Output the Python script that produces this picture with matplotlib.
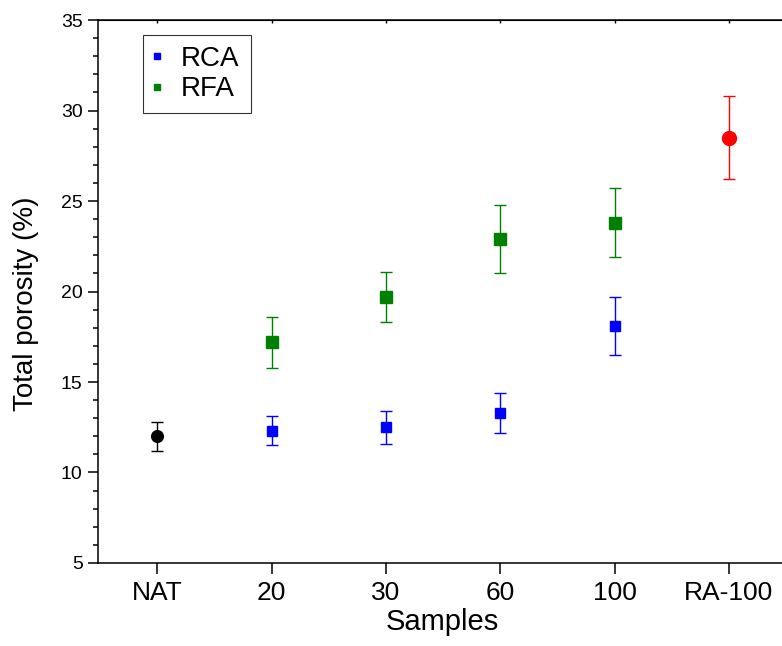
import numpy as np
import matplotlib
matplotlib.use("Agg")
import matplotlib.pyplot as plt
from matplotlib.ticker import MultipleLocator
from matplotlib.lines import Line2D

plt.rcParams["font.family"] = ["Liberation Sans", "DejaVu Sans"]

# categories along x
samples = ["NAT", "20", "30", "60", "100", "RA-100"]

# reference points
nat_pos, nat_val, nat_err = 0, 12.0, 0.8
ra_pos, ra_val, ra_err = 5, 28.5, 2.3

# RCA / RFA series at 20, 30, 60, 100
series_pos = [1, 2, 3, 4]
rca_val = [12.3, 12.5, 13.3, 18.1]
rca_err = [0.8, 0.9, 1.1, 1.6]
rfa_val = [17.2, 19.7, 22.9, 23.8]
rfa_err = [1.4, 1.4, 1.9, 1.9]

fig = plt.figure(figsize=(7.82, 6.46), dpi=100)
ax = fig.add_axes([0.1253, 0.1285, 0.8797, 0.8405])

eb = dict(linestyle="none", capsize=4.3, elinewidth=1.0, capthick=1.0)

ax.errorbar([nat_pos], [nat_val], yerr=[nat_err], marker="o", ms=8.4,
            color="black", **eb)
ax.errorbar(series_pos, rca_val, yerr=rca_err, marker="s", ms=7.6,
            color="#0000ff", **eb)
ax.errorbar(series_pos, rfa_val, yerr=rfa_err, marker="s", ms=8.4,
            color="#008000", **eb)
ax.errorbar([ra_pos], [ra_val], yerr=[ra_err], marker="o", ms=10,
            color="#ff0000", **eb)

ax.set_xlim(-0.52, 5.5)
ax.set_ylim(5, 35)
ax.set_xticks(range(len(samples)))
ax.set_xticklabels(samples, fontsize=19)
ax.yaxis.set_major_locator(MultipleLocator(5))
ax.yaxis.set_minor_locator(MultipleLocator(1))
ax.tick_params(axis="y", which="major", direction="out", length=7, width=1.1,
               labelsize=14, pad=4)
ax.tick_params(axis="y", which="minor", direction="out", length=3.5, width=1.1)
ax.tick_params(axis="x", which="major", direction="out", length=8, width=1.1, pad=5)

for s in ax.spines.values():
    s.set_linewidth(1.1)
ax.spines["right"].set_visible(False)

top = ax.secondary_xaxis("top")
top.set_xticks(range(len(samples)))
top.tick_params(direction="in", length=2.5, width=1.0, labeltop=False)

ax.set_xlabel("Samples", fontsize=21, labelpad=2)
ax.set_ylabel("Total porosity (%)", fontsize=20)
ax.yaxis.set_label_coords(-0.086, 0.478)

handles = [
    Line2D([], [], marker="s", ls="none", color="#0000ff", ms=5),
    Line2D([], [], marker="s", ls="none", color="#008000", ms=5),
]
leg = ax.legend(handles, ["RCA", "RFA"], loc="upper left",
                bbox_to_anchor=(0.0658, 0.9724), borderaxespad=0,
                fontsize=20, frameon=True, fancybox=False, edgecolor="black",
                handlelength=0.2, handletextpad=0.76, borderpad=0.4,
                labelspacing=0.15)
leg.get_frame().set_linewidth(0.8)

fig.savefig("out.png", dpi=100)
